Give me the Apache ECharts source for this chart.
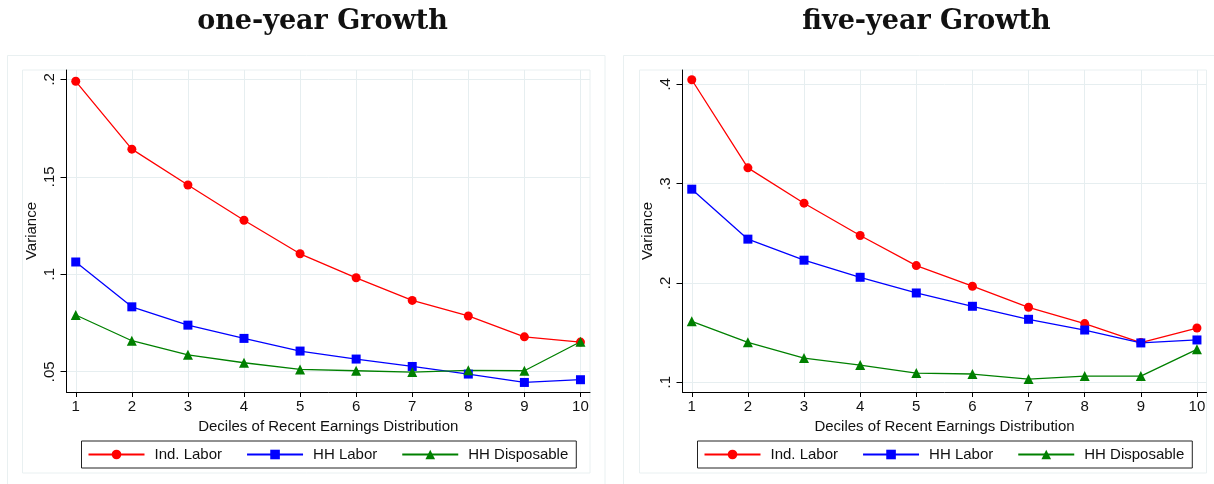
<!DOCTYPE html>
<html>
<head>
<meta charset="utf-8">
<script src="https://cdn.jsdelivr.net/npm/echarts@6/dist/echarts.min.js"></script>
<style>
  html, body { margin: 0; padding: 0; background: #fff; }
  #chart { width: 1214px; height: 484px; }
</style>
</head>
<body>
<div id="chart"></div>
<script>
// Deciles of the recent-earnings distribution
const deciles = [1, 2, 3, 4, 5, 6, 7, 8, 9, 10];
const seriesNames = ['Ind. Labor', 'HH Labor', 'HH Disposable'];
const panelTitles = ['one-year Growth', 'five-year Growth'];

// Variance of one-year growth by decile
const oneYearIndLabor = [0.199, 0.1642, 0.1458, 0.1277, 0.1105, 0.0982, 0.0866, 0.0786, 0.0679, 0.0652];
const oneYearHHLabor = [0.1063, 0.0833, 0.0739, 0.0671, 0.0606, 0.0565, 0.0527, 0.0488, 0.0445, 0.0459];
const oneYearHHDisposable = [0.0791, 0.0659, 0.0587, 0.0546, 0.0512, 0.0505, 0.0498, 0.0507, 0.0505, 0.0654];

// Variance of five-year growth by decile
const fiveYearIndLabor = [0.4046, 0.3159, 0.2803, 0.2478, 0.2175, 0.1967, 0.1755, 0.1591, 0.1400, 0.1546];
const fiveYearHHLabor = [0.2944, 0.2441, 0.2229, 0.2057, 0.1899, 0.1765, 0.1634, 0.1526, 0.1396, 0.1426];
const fiveYearHHDisposable = [0.1614, 0.1402, 0.1244, 0.1173, 0.1093, 0.1083, 0.1032, 0.1062, 0.1062, 0.1332];

// Y tick labels
const oneYearTicks = [0.05, 0.1, 0.15, 0.2];
const fiveYearTicks = [0.1, 0.2, 0.3, 0.4];

const sansFont = 'Arial, "Liberation Sans", Helvetica, sans-serif';
const gridColor = '#e6eef0';
const frameColor = '#e9f0f1';
const colors = ['#ff0000', '#0000ff', '#008000'];
const symbols = ['circle', 'rect', 'triangle'];
const symbolSizes = [9, 9, 10];

const stripZero = v => String(+v.toFixed(4)).replace(/^0\./, '.');

function xAxisFor(gridIndex) {
  return {
    type: 'value', gridIndex,
    min: 0.835, max: 10.17,
    name: 'Deciles of Recent Earnings Distribution',
    nameLocation: 'middle', nameGap: 24,
    nameTextStyle: { fontFamily: sansFont, fontSize: 15, color: '#111' },
    axisLine: { show: true, onZero: false, lineStyle: { color: '#000', width: 1 } },
    axisTick: { show: true, length: 5, customValues: deciles, lineStyle: { color: '#000' } },
    axisLabel: { customValues: deciles, margin: 7, fontFamily: sansFont, fontSize: 15, color: '#111' },
    splitLine: { show: true, lineStyle: { color: gridColor, width: 1 } }
  };
}

function yAxisFor(gridIndex, min, max, ticks) {
  return {
    type: 'value', gridIndex, min, max,
    name: 'Variance',
    nameLocation: 'middle', nameGap: 27.5,
    nameTextStyle: { fontFamily: sansFont, fontSize: 15, color: '#111' },
    axisLine: { show: true, onZero: false, lineStyle: { color: '#000', width: 1 } },
    axisTick: { show: true, length: 6, customValues: ticks, lineStyle: { color: '#000' } },
    axisLabel: {
      customValues: ticks, rotate: 90, margin: 9,
      fontFamily: sansFont, fontSize: 15, color: '#111',
      formatter: stripZero
    },
    splitLine: { show: true, lineStyle: { color: gridColor, width: 1 } }
  };
}

function seriesFor(gridIndex, valueSets) {
  return valueSets.map((vals, i) => ({
    type: 'line',
    name: seriesNames[i],
    xAxisIndex: gridIndex, yAxisIndex: gridIndex,
    data: deciles.map((d, k) => [d, vals[k]]),
    symbol: symbols[i], symbolSize: symbolSizes[i],
    showAllSymbol: true,
    lineStyle: { color: colors[i], width: 1.3 },
    itemStyle: { color: colors[i] },
    emphasis: { disabled: true },
    animation: false
  }));
}

function legendFor(leftX) {
  return {
    data: seriesNames,
    left: leftX, top: 441,
    width: 493,
    orient: 'horizontal',
    itemWidth: 56, itemHeight: 12, itemGap: 24,
    padding: [6, 8, 6, 6],
    borderColor: '#222', borderWidth: 1,
    textStyle: { fontFamily: sansFont, fontSize: 15, color: '#111', padding: [0, 0, 0, 5] }
  };
}

function frames(outerX, outerW, innerX, innerW) {
  return [
    { type: 'rect', z: -10, silent: true,
      shape: { x: outerX, y: 55.5, width: outerW, height: 440 },
      style: { fill: '#fff', stroke: frameColor, lineWidth: 1 } },
    { type: 'rect', z: -9, silent: true,
      shape: { x: innerX, y: 70, width: innerW, height: 403 },
      style: { fill: '#fff', stroke: frameColor, lineWidth: 1 } }
  ];
}

const titleStyle = { fontFamily: '"DejaVu Serif", serif', fontWeight: 'bold', fontSize: 27, color: '#111' };

const chart = echarts.init(document.getElementById('chart'), null, { renderer: 'canvas' });

chart.setOption({
  animation: false,
  backgroundColor: '#fff',
  title: [
    { text: panelTitles[0], left: 317.5, top: 3, textAlign: 'center', textStyle: titleStyle },
    { text: panelTitles[1], left: 921.5, top: 3, textAlign: 'center', textStyle: titleStyle }
  ],
  graphic: [
    ...frames(7.5, 597.5, 22.5, 567.5),
    ...frames(623.5, 600, 639.5, 567)
  ],
  grid: [
    { left: 66.5, top: 70, width: 523.5, height: 322 },
    { left: 682.5, top: 70, width: 524, height: 322 }
  ],
  xAxis: [xAxisFor(0), xAxisFor(1)],
  yAxis: [
    yAxisFor(0, 0.0396, 0.2048, oneYearTicks),
    yAxisFor(1, 0.0902, 0.4144, fiveYearTicks)
  ],
  legend: [legendFor(81.5), legendFor(697.5)],
  series: [
    ...seriesFor(0, [oneYearIndLabor, oneYearHHLabor, oneYearHHDisposable]),
    ...seriesFor(1, [fiveYearIndLabor, fiveYearHHLabor, fiveYearHHDisposable])
  ]
});
</script>
</body>
</html>
